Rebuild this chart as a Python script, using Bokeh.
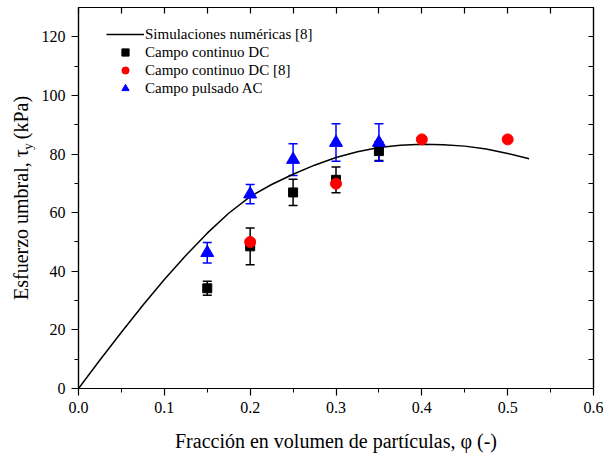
from bokeh.plotting import figure
from bokeh.models import (ColumnDataSource, Whisker, TeeHead, LinearAxis, FixedTicker,
                          Legend, LegendItem, Label, PrintfTickFormatter, Range1d)
from bokeh.embed import file_html
from bokeh.resources import INLINE

# ---------------- data ----------------
curve_x = [0.0, 0.025, 0.05, 0.075, 0.1, 0.125, 0.15, 0.175, 0.2, 0.225, 0.25, 0.275,
           0.3, 0.325, 0.35, 0.375, 0.4, 0.425, 0.45, 0.475, 0.5, 0.525]
curve_y = [0.0, 9.7, 19.2, 28.4, 37.2, 45.4, 53.0, 59.8, 65.5, 69.6, 73.1, 76.2,
           78.8, 80.8, 82.2, 83.0, 83.3, 83.2, 82.7, 81.7, 80.2, 78.4]

dc_x = [0.15, 0.20, 0.25, 0.30, 0.35]
dc_y = [34.2, 48.5, 66.9, 71.2, 81.0]
dc_err = [2.4, 6.3, 4.5, 4.4, 3.2]

ref_x = [0.20, 0.30, 0.40, 0.50]
ref_y = [50.0, 69.9, 85.0, 85.0]

ac_x = [0.15, 0.20, 0.25, 0.30, 0.35]
ac_y = [46.3, 66.3, 78.1, 83.9, 83.9]
ac_err = [3.5, 3.3, 5.4, 6.4, 6.4]

x_ticks = [0.0, 0.1, 0.2, 0.3, 0.4, 0.5, 0.6]
x_minor = [0.05, 0.15, 0.25, 0.35, 0.45, 0.55]
y_ticks = [0, 20, 40, 60, 80, 100, 120]
y_minor = [10, 30, 50, 70, 90, 110]

series_labels = ["Simulaciones numéricas [8]", "Campo continuo DC",
                 "Campo continuo DC [8]", "Campo pulsado AC"]
x_title = "Fracción en volumen de partículas, φ (-)"
y_title = "Esfuerzo umbral, τ\u00a0\u00a0(kPa)"
y_title_sub = "y"

FONT = "Liberation Serif"

p = figure(width=603, height=457, output_backend="svg", toolbar_location=None,
           x_range=Range1d(0, 0.6), y_range=Range1d(0, 130),
           min_border_left=78, min_border_right=10, min_border_top=7, min_border_bottom=69,
           x_axis_location="below", y_axis_location="left")
p.xgrid.visible = False
p.ygrid.visible = False
p.outline_line_color = "black"
p.outline_line_width = 1.2
p.background_fill_color = "white"
p.border_fill_color = "white"

# bottom axis
xa = p.below[0]
xa.ticker = FixedTicker(ticks=x_ticks, minor_ticks=x_minor)
xa.formatter = PrintfTickFormatter(format="%.1f")
xa.major_tick_out = 7
xa.major_tick_in = 0
xa.minor_tick_out = 4
xa.minor_tick_in = 0
xa.major_label_standoff = 6
xa.major_label_text_font = FONT
xa.major_label_text_font_size = "16px"
xa.major_label_text_color = "black"
xa.axis_line_color = "black"
xa.axis_line_width = 1.2
xa.major_tick_line_color = "black"
xa.minor_tick_line_color = "black"
xa.major_tick_line_width = 1.2
xa.axis_label = x_title
xa.axis_label_text_font = FONT
xa.axis_label_text_font_size = "20px"
xa.axis_label_text_font_style = "normal"
xa.axis_label_text_color = "black"
xa.axis_label_standoff = 14

# left axis
ya = p.left[0]
ya.ticker = FixedTicker(ticks=y_ticks, minor_ticks=y_minor)
ya.major_tick_out = 7
ya.major_tick_in = 0
ya.minor_tick_out = 4
ya.minor_tick_in = 0
ya.major_label_standoff = 6
ya.major_label_text_font = FONT
ya.major_label_text_font_size = "16px"
ya.major_label_text_color = "black"
ya.axis_line_color = "black"
ya.axis_line_width = 1.2
ya.major_tick_line_color = "black"
ya.minor_tick_line_color = "black"
ya.major_tick_line_width = 1.2
ya.axis_label = y_title
ya.axis_label_text_font = FONT
ya.axis_label_text_font_size = "20px"
ya.axis_label_text_font_style = "normal"
ya.axis_label_text_color = "black"
ya.axis_label_standoff = 7

# top and right mirror axes (ticks inward, no labels)
top = LinearAxis(ticker=FixedTicker(ticks=[i * 0.05 for i in range(13)]),
                 major_tick_in=6, major_tick_out=0, minor_tick_in=0, minor_tick_out=0,
                 major_label_text_font_size="0px", major_label_text_color=None,
                 major_label_standoff=0,
                 axis_line_color="black", major_tick_line_color="black",
                 axis_line_width=1.2, major_tick_line_width=1.2)
right = LinearAxis(ticker=FixedTicker(ticks=[i * 10 for i in range(14)]),
                   major_tick_in=5, major_tick_out=0, minor_tick_in=0, minor_tick_out=0,
                   major_label_text_font_size="0px", major_label_text_color=None,
                   major_label_standoff=0,
                   axis_line_color="black", major_tick_line_color="black",
                   axis_line_width=1.2, major_tick_line_width=1.2)
p.add_layout(top, "above")
p.add_layout(right, "right")

# error bars
dc_src = ColumnDataSource(dict(x=dc_x, y=dc_y,
                               lo=[a - b for a, b in zip(dc_y, dc_err)],
                               hi=[a + b for a, b in zip(dc_y, dc_err)]))
ac_src = ColumnDataSource(dict(x=ac_x, y=ac_y,
                               lo=[a - b for a, b in zip(ac_y, ac_err)],
                               hi=[a + b for a, b in zip(ac_y, ac_err)]))
ref_src = ColumnDataSource(dict(x=ref_x, y=ref_y))

for src, col in ((dc_src, "black"), (ac_src, "blue")):
    w = Whisker(source=src, base="x", lower="lo", upper="hi",
                line_color=col, line_width=1.5,
                upper_head=TeeHead(size=9, line_color=col, line_width=1.5),
                lower_head=TeeHead(size=9, line_color=col, line_width=1.5))
    p.add_layout(w)

r_line = p.line(curve_x, curve_y, line_color="black", line_width=1.5)
r_dc = p.scatter("x", "y", source=dc_src, marker="square", size=9,
                 fill_color="black", line_color="black")
r_ref = p.scatter("x", "y", source=ref_src, marker="circle", size=11,
                  fill_color="red", line_color="red")
r_ac = p.scatter("x", "y", source=ac_src, marker="triangle", size=13,
                 fill_color="blue", line_color="blue")

legend = Legend(items=[LegendItem(label=series_labels[0], renderers=[r_line]),
                       LegendItem(label=series_labels[1], renderers=[r_dc]),
                       LegendItem(label=series_labels[2], renderers=[r_ref]),
                       LegendItem(label=series_labels[3], renderers=[r_ac])],
                location=(28, 291), padding=0, margin=0, spacing=0,
                glyph_width=38, glyph_height=18, label_height=18, label_standoff=1,
                label_text_font=FONT, label_text_font_size="15px",
                label_text_color="black",
                border_line_color=None, background_fill_alpha=0)
p.add_layout(legend, "center")

# subscript "y" of tau: placed in the top side panel (tiny height) so it is not clipped
p.add_layout(Label(x=-0.0600, y=81.5, text=y_title_sub, angle=1.5707963,
                   text_align="left", text_baseline="alphabetic",
                   text_font=FONT, text_font_size="13px", text_color="black"), "above")

open("out.html", "w").write(file_html(p, INLINE))
